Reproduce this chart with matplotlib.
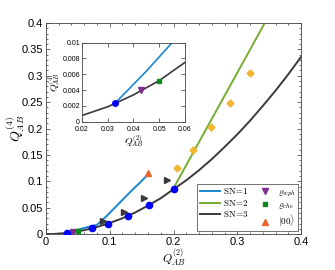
import matplotlib.pyplot as plt
from matplotlib.ticker import MultipleLocator
from matplotlib.lines import Line2D

plt.rcParams['mathtext.fontset'] = 'cm'
plt.rcParams['font.family'] = ['Liberation Sans', 'DejaVu Sans']

# SN=3 curve (black)
sn3_x = [0, 0.01, 0.02, 0.03, 0.04, 0.05, 0.06, 0.08, 0.10, 0.12, 0.14, 0.16,
         0.18, 0.20, 0.22, 0.24, 0.26, 0.28, 0.30, 0.32, 0.34, 0.36, 0.38, 0.40]
sn3_y = [0, 0.0002, 0.0008, 0.0019, 0.0034, 0.0052, 0.0075, 0.0134, 0.021, 0.030,
         0.041, 0.054, 0.068, 0.085, 0.102, 0.121, 0.142, 0.165, 0.189, 0.215,
         0.243, 0.272, 0.303, 0.336]
# SN=1 curve (blue)
sn1_x = [0.033, 0.045, 0.055, 0.065, 0.080, 0.095, 0.108, 0.121, 0.134, 0.147, 0.160]
sn1_y = [0.0024, 0.0064, 0.010, 0.0132, 0.0175, 0.034, 0.050, 0.066, 0.082, 0.097, 0.113]
# SN=2 line (green)
sn2_x = [0.200, 0.343]
sn2_y = [0.087, 0.400]

# markers
circ_x = [0.033, 0.072, 0.098, 0.128, 0.162, 0.200]
circ_y = [0.0024, 0.011, 0.020, 0.035, 0.055, 0.085]
wph_x, wph_y = [0.043], [0.0040]
che_x, che_y = [0.050], [0.0052]
ket_x, ket_y = [0.160], [0.115]
tri_x = [0.090, 0.122, 0.153, 0.190]
tri_y = [0.025, 0.042, 0.068, 0.103]
dia_x = [0.205, 0.231, 0.259, 0.289, 0.320]
dia_y = [0.125, 0.160, 0.202, 0.248, 0.305]
dia_err = [0.006, 0.006, 0.006, 0.006, 0.006]

c_blue = '#1a86d0'
c_green = '#77ac30'
c_black = '#3a3a3a'
c_purple = '#7e2f8e'
c_sq = '#0a8a1e'
c_orange = '#e8632a'
c_gold = '#f2b530'


def draw(ax, small=False):
    lw = 1.2 if small else 1.4
    ms = 4 if small else 4.5
    ax.plot(sn3_x, sn3_y, color=c_black, lw=lw, zorder=2)
    ax.plot(sn1_x, sn1_y, color=c_blue, lw=lw, zorder=2)
    ax.plot(sn2_x, sn2_y, color=c_green, lw=lw, zorder=2)
    ax.plot(circ_x, circ_y, 'o', color='#0000ff', ms=ms, zorder=4)
    ax.plot(wph_x, wph_y, 'v', color=c_purple, ms=ms, zorder=4)
    ax.plot(che_x, che_y, 's', color=c_sq, ms=ms - 1, zorder=4)
    if not small:
        ax.plot(ket_x, ket_y, '^', color=c_orange, ms=ms, zorder=4)
        ax.plot(tri_x, tri_y, '>', color=c_black, ms=ms, zorder=4)
        ax.errorbar(dia_x, dia_y, yerr=dia_err, fmt='D', color=c_gold,
                    ms=3.5, elinewidth=1, capsize=0, zorder=4)
    ax.tick_params(direction='in', which='both', top=True, right=True,
                   width=0.6, color='#555555')
    ax.tick_params(which='major', length=3)
    ax.tick_params(which='minor', length=1.5)
    for s in ax.spines.values():
        s.set_linewidth(0.6)
        s.set_color('#444444')


fig = plt.figure(figsize=(3.35, 2.7), dpi=100)
ax = fig.add_axes([0.137, 0.133, 0.762, 0.782])
draw(ax)
ax.set_xlim(0, 0.4)
ax.set_ylim(0, 0.4)
ax.set_xticks([0, 0.1, 0.2, 0.3, 0.4])
ax.set_xticklabels(['0', '0.1', '0.2', '0.3', '0.4'])
ax.set_yticks([0, 0.05, 0.1, 0.15, 0.2, 0.25, 0.3, 0.35, 0.4])
ax.set_yticklabels(['0', '0.05', '0.1', '0.15', '0.2', '0.25', '0.3', '0.35', '0.4'])
ax.xaxis.set_minor_locator(MultipleLocator(0.02))
ax.yaxis.set_minor_locator(MultipleLocator(0.01))
ax.tick_params(labelsize=8, pad=2)
ax.set_xlabel(r'$Q_{AB}^{(2)}$', fontsize=8.5)
ax.set_ylabel(r'$Q_{AB}^{(4)}$', fontsize=10)
ax.xaxis.set_label_coords(0.5, -0.065)
ax.yaxis.set_label_coords(-0.075, 0.5)

handles = [
    Line2D([], [], color=c_blue, lw=1.4),
    Line2D([], [], color=c_green, lw=1.4),
    Line2D([], [], color=c_black, lw=1.4),
    Line2D([], [], ls='', marker='v', color=c_purple, ms=4),
    Line2D([], [], ls='', marker='s', color=c_sq, ms=3),
    Line2D([], [], ls='', marker='^', color=c_orange, ms=4),
]
labels = [r'$\mathrm{SN\!=\!1}$', r'$\mathrm{SN\!=\!2}$', r'$\mathrm{SN\!=\!3}$',
          r'$\varrho_{wph}$', r'$\varrho_{che}$', r'$|00\rangle$']
leg = ax.legend(handles, labels, ncol=2, loc='lower right', fontsize=6.5,
                frameon=True, fancybox=False, edgecolor='#333333',
                handlelength=2.2, handletextpad=0.3, columnspacing=0.8,
                labelspacing=0.15, borderpad=0.3, borderaxespad=0.3)
leg.get_frame().set_linewidth(0.6)

ins = fig.add_axes([0.245, 0.549, 0.307, 0.293])
draw(ins, small=True)
ins.set_xlim(0.02, 0.06)
ins.set_ylim(0, 0.01)
ins.set_xticks([0.02, 0.03, 0.04, 0.05, 0.06])
ins.set_xticklabels(['0.02', '0.03', '0.04', '0.05', '0.06'])
ins.set_yticks([0, 0.002, 0.004, 0.006, 0.008, 0.01])
ins.set_yticklabels(['0', '0.002', '0.004', '0.006', '0.008', '0.01'])
ins.tick_params(labelsize=5, pad=1.5)
ins.tick_params(axis='x', pad=3)
ins.set_xlabel(r'$Q_{AB}^{(2)}$', fontsize=7)
ins.set_ylabel(r'$Q_{AB}^{(4)}$', fontsize=7)
ins.xaxis.set_label_coords(0.5, -0.14)
ins.yaxis.set_label_coords(-0.2, 0.5)

fig.savefig('out.png', dpi=100)
